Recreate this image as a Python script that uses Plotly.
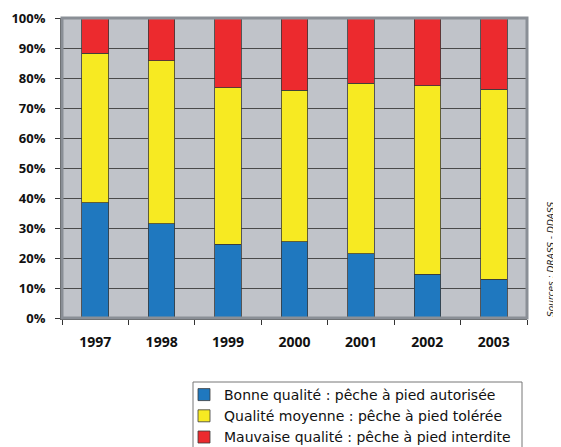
import plotly.graph_objects as go

years = ["1997", "1998", "1999", "2000", "2001", "2002", "2003"]
bonne = [38.4, 31.5, 24.6, 25.4, 21.4, 14.6, 12.9]
moyenne = [49.8, 54.3, 52.2, 50.6, 56.9, 62.8, 63.3]
mauvaise = [11.8, 14.2, 23.2, 24.0, 21.7, 22.6, 23.8]
names = ["Bonne qualité : pêche à pied autorisée",
         "Qualité moyenne : pêche à pied tolérée",
         "Mauvaise qualité : pêche à pied interdite"]
colors = ["#1F78BF", "#F7EA22", "#EC2A2E"]
ytick_vals = [0, 10, 20, 30, 40, 50, 60, 70, 80, 90, 100]
ytick_text = [f"{v}%" for v in ytick_vals]

# page body has an 8px margin; figure sized to fill the rest of the window
OFF = 8
W, H = 561 - OFF, 447 - OFF
PL, PR, PT, PB = 62, 527, 18, 318  # plot area in screen pixels


def px(sx):
    return (sx - PL) / (PR - PL)


def py(sy):
    return (PB - sy) / (PB - PT)


fig = go.Figure()
for vals, name, col in zip([bonne, moyenne, mauvaise], names, colors):
    fig.add_trace(go.Bar(x=years, y=vals, name=name,
                         marker=dict(color=col, line=dict(color="#3a3a3a", width=0.8))))

fig.update_layout(
    barmode="stack", bargap=0.6,
    width=W, height=H,
    margin=dict(l=PL - OFF, r=W - (PR - OFF), t=PT - OFF, b=H - (PB - OFF), autoexpand=False),
    paper_bgcolor="white", plot_bgcolor="#C0C3C9",
    font=dict(family="Open Sans", color="#111"),
    legend=dict(traceorder="normal", orientation="v",
                xref="container", yref="container",
                x=(184 - OFF) / W, xanchor="left", y=1 - (379 - OFF) / H, yanchor="top",
                bgcolor="rgba(0,0,0,0)", borderwidth=0,
                font=dict(size=14, family="DejaVu Sans", color="#111"),
                tracegroupgap=0, itemwidth=30),
    showlegend=True,
)
fig.update_yaxes(range=[0, 100], tickvals=ytick_vals, ticktext=ytick_text,
                 tickfont=dict(size=13, family="Open Sans", weight="bold"),
                 showgrid=True, gridcolor="#4a4a4a", gridwidth=1,
                 showline=True, linecolor="#555", linewidth=2,
                 ticks="outside", ticklen=5, tickcolor="#333", zeroline=False,
                 ticklabelstandoff=7,
                 fixedrange=True, automargin=False)
fig.update_xaxes(tickfont=dict(size=14, family="Open Sans", weight="bold"),
                 tickson="boundaries", ticks="outside", ticklen=5, tickcolor="#333",
                 showline=True, linecolor="#555", linewidth=2, mirror=False,
                 ticklabelstandoff=10,
                 fixedrange=True, automargin=False)

# plot frame on top/right
fig.add_shape(type="rect", xref="paper", yref="paper", x0=0, x1=1, y0=0, y1=1,
              line=dict(color="#8A8F96", width=3), layer="above")
# legend box
fig.add_shape(type="rect", xref="paper", yref="paper", x0=px(193), x1=px(522),
              y0=py(452), y1=py(382),
              line=dict(color="#777", width=1), fillcolor="rgba(0,0,0,0)")

fig.add_annotation(text="Sources : DRASS - DDASS", xref="paper", yref="paper",
                   x=px(558), y=py(260), xanchor="right", yanchor="middle",
                   textangle=-90, showarrow=False,
                   font=dict(size=9, family="DejaVu Sans", style="italic", color="#222"))

fig.write_html("out.html")
